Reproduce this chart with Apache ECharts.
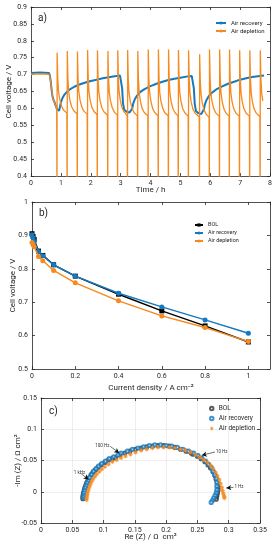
<!DOCTYPE html>
<html><head><meta charset="utf-8">
<script src="https://cdn.jsdelivr.net/npm/echarts@6/dist/echarts.min.js"></script>
<style>html,body{margin:0;padding:0;background:#fff}#c{width:277px;height:550px}</style>
</head><body><div id="c"></div><script>
// ---------- Panel a: time series (Time / h, Cell voltage / V)
const recoveryData = [[0,0.705],[0.3,0.706],[0.6,0.705],[0.63,0.698],[0.66,0.680],[0.69,0.655],[0.72,0.635],[0.75,0.626],[0.78,0.620],[0.81,0.612],[0.84,0.605],[0.87,0.598],[0.90,0.594],[0.94,0.593],[0.97,0.605],[1.00,0.618],[1.05,0.630],[1.12,0.641],[1.2,0.649],[1.3,0.656],[1.45,0.664],[1.6,0.670],[1.8,0.676],[2.0,0.681],[2.2,0.685],[2.4,0.689],[2.6,0.692],[2.8,0.695],[2.98,0.697],[3.02,0.697],[3.05,0.660],[3.08,0.615],[3.12,0.596],[3.2,0.590],[3.3,0.588],[3.36,0.586],[3.39,0.600],[3.42,0.614],[3.47,0.626],[3.55,0.638],[3.65,0.648],[3.8,0.657],[4.0,0.666],[4.2,0.673],[4.4,0.679],[4.6,0.684],[4.8,0.688],[5.0,0.691],[5.2,0.694],[5.38,0.696],[5.42,0.696],[5.45,0.660],[5.48,0.615],[5.52,0.592],[5.6,0.586],[5.7,0.583],[5.76,0.581],[5.79,0.598],[5.82,0.612],[5.87,0.624],[5.95,0.636],[6.05,0.646],[6.2,0.656],[6.4,0.665],[6.6,0.673],[6.8,0.679],[7.0,0.685],[7.2,0.689],[7.4,0.693],[7.6,0.695],[7.8,0.697]];
const depletionData = [[0,0.701],[0.3,0.702],[0.6,0.701],[0.63,0.695],[0.67,0.672],[0.70,0.648],[0.74,0.628],[0.78,0.618],[0.82,0.608],[0.86,0.600],
[0.87,0.30],[0.875,0.765],[0.895,0.69],[0.92,0.652],[0.96,0.628],[1.02,0.607],[1.09,0.595],[1.20,0.586],
[1.21,0.30],[1.215,0.770],[1.235,0.69],[1.26,0.650],[1.30,0.625],[1.36,0.605],[1.43,0.593],[1.54,0.584],
[1.55,0.30],[1.555,0.768],[1.575,0.69],[1.60,0.650],[1.64,0.625],[1.70,0.604],[1.77,0.592],[1.88,0.583],
[1.89,0.30],[1.895,0.773],[1.915,0.69],[1.94,0.649],[1.98,0.624],[2.04,0.603],[2.11,0.591],[2.21,0.582],
[2.22,0.30],[2.225,0.772],[2.245,0.69],[2.27,0.649],[2.31,0.624],[2.37,0.602],[2.44,0.590],[2.56,0.580],
[2.57,0.30],[2.575,0.770],[2.595,0.69],[2.62,0.648],[2.66,0.623],[2.72,0.602],[2.79,0.589],[2.89,0.580],
[2.90,0.30],[2.905,0.772],[2.925,0.69],[2.95,0.648],[2.99,0.623],[3.05,0.601],[3.12,0.589],[3.22,0.579],
[3.23,0.30],[3.235,0.773],[3.255,0.69],[3.28,0.648],[3.32,0.622],[3.38,0.601],[3.45,0.588],[3.56,0.578],
[3.57,0.30],[3.575,0.770],[3.595,0.69],[3.62,0.648],[3.66,0.622],[3.72,0.600],[3.79,0.588],[3.91,0.578],
[3.92,0.30],[3.925,0.774],[3.945,0.69],[3.97,0.648],[4.01,0.622],[4.07,0.600],[4.14,0.588],[4.25,0.578],
[4.26,0.30],[4.265,0.774],[4.285,0.69],[4.31,0.647],[4.35,0.621],[4.41,0.600],[4.48,0.587],[4.59,0.578],
[4.60,0.30],[4.605,0.774],[4.625,0.69],[4.65,0.647],[4.69,0.621],[4.75,0.599],[4.82,0.587],[4.92,0.578],
[4.93,0.30],[4.935,0.773],[4.955,0.69],[4.98,0.647],[5.02,0.621],[5.08,0.599],[5.15,0.587],[5.26,0.577],
[5.27,0.30],[5.275,0.772],[5.295,0.69],[5.32,0.646],[5.36,0.620],[5.42,0.598],[5.50,0.585],[5.63,0.575],
[5.64,0.30],[5.645,0.760],[5.665,0.685],[5.69,0.644],[5.73,0.618],[5.79,0.596],[5.86,0.583],[5.96,0.574],
[5.97,0.30],[5.975,0.774],[5.995,0.69],[6.02,0.646],[6.06,0.620],[6.12,0.598],[6.19,0.586],[6.30,0.577],
[6.31,0.30],[6.315,0.774],[6.335,0.69],[6.36,0.646],[6.40,0.620],[6.46,0.598],[6.53,0.586],[6.63,0.577],
[6.64,0.30],[6.645,0.774],[6.665,0.69],[6.69,0.646],[6.73,0.620],[6.79,0.598],[6.86,0.586],[6.97,0.577],
[6.98,0.30],[6.985,0.772],[7.005,0.69],[7.03,0.646],[7.07,0.620],[7.13,0.598],[7.20,0.586],[7.31,0.577],
[7.32,0.30],[7.325,0.772],[7.345,0.69],[7.37,0.646],[7.41,0.620],[7.47,0.598],[7.54,0.586],[7.66,0.576],
[7.67,0.30],[7.675,0.772],[7.695,0.69],[7.72,0.646],[7.76,0.622]];

// ---------- Panel b: polarization curves
const currentDensity = [0, 0.005, 0.01, 0.03, 0.05, 0.1, 0.2, 0.4, 0.6, 0.8, 1.0];
const bolVoltage = [0.905, 0.897, 0.888, 0.853, 0.840, 0.812, 0.778, 0.724, 0.674, 0.629, 0.581];
const recoveryVoltage = [0.902, 0.892, 0.882, 0.852, 0.839, 0.812, 0.778, 0.727, 0.686, 0.647, 0.607];
const depletionVoltage = [0.879, 0.872, 0.866, 0.837, 0.824, 0.795, 0.758, 0.704, 0.659, 0.624, 0.582];

// ---------- Panel c: Nyquist plots [Re, -Im]
const nyquistBOL = [[0.067,-0.011],[0.067,-0.008],[0.0675,-0.005],[0.068,-0.002],[0.069,0.002],[0.070,0.006],[0.0715,0.010],[0.073,0.014],[0.075,0.018],[0.077,0.022],[0.080,0.027],[0.083,0.031],[0.087,0.035],[0.091,0.039],[0.096,0.043],[0.102,0.047],[0.108,0.051],[0.114,0.053],[0.119,0.055],[0.126,0.059],[0.134,0.062],[0.142,0.065],[0.151,0.068],[0.160,0.070],[0.169,0.072],[0.178,0.073],[0.187,0.074],[0.196,0.074],[0.205,0.073],[0.214,0.071],[0.223,0.068],[0.232,0.065],[0.240,0.062],[0.243,0.060],[0.250,0.057],[0.256,0.053],[0.262,0.048],[0.267,0.043],[0.271,0.038],[0.275,0.032],[0.278,0.026],[0.280,0.020],[0.282,0.014],[0.283,0.008],[0.283,0.003],[0.282,-0.002],[0.281,-0.006],[0.280,-0.009],[0.280,-0.012]];
const nyquistRecovery = [[0.068,-0.010],[0.068,-0.007],[0.0685,-0.004],[0.069,-0.001],[0.070,0.003],[0.071,0.007],[0.0725,0.011],[0.074,0.015],[0.076,0.019],[0.078,0.023],[0.081,0.028],[0.084,0.033],[0.088,0.037],[0.092,0.041],[0.097,0.045],[0.103,0.049],[0.109,0.053],[0.116,0.056],[0.123,0.059],[0.128,0.062],[0.138,0.065],[0.146,0.068],[0.155,0.070],[0.164,0.072],[0.173,0.074],[0.182,0.075],[0.191,0.075],[0.200,0.074],[0.209,0.073],[0.218,0.071],[0.227,0.068],[0.236,0.065],[0.244,0.062],[0.251,0.058],[0.257,0.054],[0.263,0.049],[0.268,0.044],[0.272,0.039],[0.275,0.033],[0.278,0.027],[0.280,0.021],[0.281,0.015],[0.281,0.009],[0.281,0.003],[0.280,-0.002],[0.278,-0.006],[0.276,-0.010],[0.274,-0.014],[0.272,-0.017]];
const nyquistDepletion = [[0.073,-0.013],[0.073,-0.010],[0.0735,-0.007],[0.074,-0.004],[0.075,0.000],[0.076,0.004],[0.0775,0.008],[0.079,0.012],[0.081,0.016],[0.083,0.020],[0.086,0.024],[0.089,0.028],[0.093,0.032],[0.097,0.036],[0.102,0.040],[0.108,0.044],[0.114,0.048],[0.121,0.051],[0.128,0.054],[0.135,0.057],[0.143,0.060],[0.151,0.063],[0.160,0.066],[0.169,0.068],[0.178,0.070],[0.187,0.071],[0.196,0.071],[0.205,0.071],[0.214,0.070],[0.223,0.068],[0.231,0.066],[0.239,0.063],[0.247,0.059],[0.254,0.055],[0.260,0.051],[0.266,0.047],[0.271,0.042],[0.275,0.037],[0.279,0.031],[0.282,0.025],[0.285,0.019],[0.287,0.013],[0.289,0.007],[0.290,0.002],[0.291,-0.002],[0.292,-0.005],[0.293,-0.008],[0.293,-0.010]];
// frequency annotations: [label, arrowStart, arrowEnd]
const freqNotes = [['1 kHz',[0.0628,0.030],[0.076,0.0195]],['100 Hz',[0.1106,0.0727],[0.125,0.062]],['10 Hz',[0.278,0.0636],[0.257,0.0583]],['1 Hz',[0.3075,0.007],[0.296,0.006]]];

const BLUE = '#1479BF', ORANGE = '#F58A1F', BLACK = '#000000';
const AX = '#262626';
const FONT = 'Roboto';
const ASTER = 'path://M8,0h4v20h-4z M0,8h20v4h-20z M1.5,4.3l2.8,-2.8l14.2,14.2l-2.8,2.8z M15.7,1.5l2.8,2.8l-14.2,14.2l-2.8,-2.8z';

function axis(kind, gi, min, max, interval, opts) {
  const mirror = opts.mirror;
  const a = {
    type: 'value', gridIndex: gi, min, max, interval,
    position: mirror ? (kind === 'x' ? 'top' : 'right') : (kind === 'x' ? 'bottom' : 'left'),
    axisLine: { show: true, onZero: false, lineStyle: { color: AX, width: 0.8 } },
    axisTick: { show: true, inside: true, length: 3, lineStyle: { color: AX, width: 0.8 } },
    axisLabel: { show: !mirror, fontSize: 7, color: AX, margin: 4, fontFamily: FONT },
    splitLine: { show: !!opts.grid && !mirror, lineStyle: { color: '#e3e3e3', width: 0.6 } }
  };
  if (!mirror && opts.name) {
    a.name = opts.name; a.nameLocation = 'middle'; a.nameGap = opts.nameGap; a.nameMoveOverlap = false;
    a.nameTextStyle = { fontSize: 8, color: AX, fontFamily: FONT };
  }
  if (opts.hideMax) a.axisLabel.showMaxLabel = false;
  return a;
}

const chart = echarts.init(document.getElementById('c'), null, { renderer: 'canvas' });
chart.setOption({
  animation: false,
  backgroundColor: '#fff',
  textStyle: { fontFamily: FONT },
  grid: [
    { left: 31, top: 7, width: 239, height: 169, containLabel: false, outerBoundsMode: 'none' },
    { left: 32, top: 202, width: 238, height: 167, containLabel: false, outerBoundsMode: 'none' },
    { left: 41, top: 398, width: 219, height: 125, containLabel: false, outerBoundsMode: 'none' }
  ],
  xAxis: [
    axis('x', 0, 0, 8, 1, { name: 'Time / h', nameGap: 10 }),
    axis('x', 0, 0, 8, 1, { mirror: true }),
    axis('x', 1, 0, 1.1, 0.2, { name: 'Current density / A cm\u207B\u00B2', nameGap: 15, hideMax: true }),
    axis('x', 1, 0, 1.1, 0.2, { mirror: true }),
    axis('x', 2, 0, 0.35, 0.05, { name: 'Re (Z) / \u03A9  cm\u00B2', nameGap: 10, grid: true }),
    axis('x', 2, 0, 0.35, 0.05, { mirror: true })
  ],
  yAxis: [
    axis('y', 0, 0.4, 0.9, 0.05, { name: 'Cell voltage / V', nameGap: 18 }),
    axis('y', 0, 0.4, 0.9, 0.05, { mirror: true }),
    axis('y', 1, 0.5, 1, 0.1, { name: 'Cell voltage / V', nameGap: 15 }),
    axis('y', 1, 0.5, 1, 0.1, { mirror: true }),
    axis('y', 2, -0.05, 0.15, 0.05, { name: '-Im (Z) / \u03A9 cm\u00B2', nameGap: 19, grid: true }),
    axis('y', 2, -0.05, 0.15, 0.05, { mirror: true })
  ],
  legend: [
    { data: ['Air recovery', 'Air depletion'], orient: 'vertical', left: 215, top: 20, itemWidth: 10, itemHeight: 4, itemGap: 2, padding: 0,
      textStyle: { fontSize: 6, color: AX, fontFamily: FONT }, formatter: n => n.trim() },
    { data: ['BOL', 'Air recovery ', 'Air depletion '], orient: 'vertical', left: 194, top: 222, itemWidth: 8, itemHeight: 4, itemGap: 2, padding: 0,
      textStyle: { fontSize: 5.5, color: AX, fontFamily: FONT }, formatter: n => n.trim() },
    { data: ['BOL  ', 'Air recovery  ', 'Air depletion  '], orient: 'vertical', left: 209, top: 405, itemWidth: 4, itemHeight: 3.5, itemGap: 3, padding: 0,
      textStyle: { fontSize: 6.5, color: AX, fontFamily: FONT }, formatter: n => n.trim() }
  ],
  graphic: [
    { type: 'text', left: 38, top: 13, style: { text: 'a)', font: '10px Roboto', fill: AX } },
    { type: 'text', left: 39, top: 208, style: { text: 'b)', font: '10px Roboto', fill: AX } },
    { type: 'text', left: 49, top: 406, style: { text: 'c)', font: '10px Roboto', fill: AX } }
  ],
  series: [
    { type: 'line', name: 'Air recovery', xAxisIndex: 0, yAxisIndex: 0, data: recoveryData, symbol: 'none', color: BLUE,
      lineStyle: { color: BLUE, width: 2 }, z: 2 },
    { type: 'line', name: 'Air depletion', xAxisIndex: 0, yAxisIndex: 0, data: depletionData, symbol: 'none', color: ORANGE,
      lineStyle: { color: ORANGE, width: 1.3 }, z: 3 },

    { type: 'line', name: 'BOL', xAxisIndex: 2, yAxisIndex: 2, data: currentDensity.map((j, i) => [j, bolVoltage[i]]),
      symbol: 'rect', symbolSize: 5, color: BLACK, lineStyle: { color: BLACK, width: 1.5 }, z: 2 },
    { type: 'line', name: 'Air recovery ', xAxisIndex: 2, yAxisIndex: 2, data: currentDensity.map((j, i) => [j, recoveryVoltage[i]]),
      symbol: 'circle', symbolSize: 5, color: BLUE, lineStyle: { color: BLUE, width: 1.5 }, z: 3 },
    { type: 'line', name: 'Air depletion ', xAxisIndex: 2, yAxisIndex: 2, data: currentDensity.map((j, i) => [j, depletionVoltage[i]]),
      symbol: 'circle', symbolSize: 5, color: ORANGE, lineStyle: { color: ORANGE, width: 1.5 }, z: 4 },

    { type: 'scatter', name: 'BOL  ', xAxisIndex: 4, yAxisIndex: 4, data: nyquistBOL, symbol: 'emptyCircle', symbolSize: 3.2,
      color: '#333', itemStyle: { color: '#333', borderColor: '#333', borderWidth: 0.5 }, z: 2,
      markLine: { silent: true, symbol: ['none', 'arrow'], symbolSize: [4, 5], animation: false,
        lineStyle: { color: '#111', width: 0.6, type: 'solid' },
        label: { show: true, position: 'start', fontSize: 4.5, color: '#333', distance: 1, fontFamily: FONT },
        data: freqNotes.map(f => [{ coord: f[1], name: f[0], label: { formatter: f[0] } }, { coord: f[2] }]) } },
    { type: 'scatter', name: 'Air recovery  ', xAxisIndex: 4, yAxisIndex: 4, data: nyquistRecovery, symbol: 'emptyCircle', symbolSize: 3.2,
      color: BLUE, itemStyle: { color: BLUE, borderColor: BLUE, borderWidth: 0.5 }, z: 3 },
    { type: 'scatter', name: 'Air depletion  ', xAxisIndex: 4, yAxisIndex: 4, data: nyquistDepletion, symbol: ASTER, symbolSize: 4.3,
      color: ORANGE, itemStyle: { color: ORANGE, opacity: 0.9 }, z: 4 }
  ]
});
</script></body></html>
